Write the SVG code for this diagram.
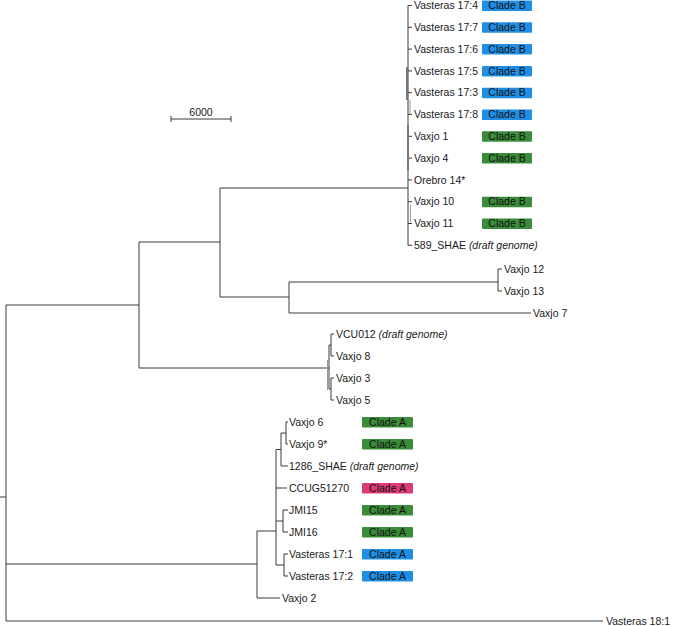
<svg xmlns="http://www.w3.org/2000/svg" width="675" height="626" viewBox="0 0 675 626">
<style>
.t{font-family:"Liberation Sans",Arial,sans-serif;font-size:10.5px;fill:#1a1a1a}
.i{font-style:italic}
.c{font-family:"Liberation Sans",Arial,sans-serif;font-size:10.5px;fill:#111;text-anchor:middle}
.br{fill:none;stroke:#3a3a3a;stroke-width:1}
.lg{fill:none;stroke:#9a9a9a;stroke-width:1}
.dg{fill:none;stroke:#777;stroke-width:2}
.bl{fill:#1f8fe6}
.gr{fill:#3b8c3a}
.pk{fill:#dd3a78}
</style>
<rect width="675" height="626" fill="#fff"/>
<g id="connectors">
<path class="br" d="M0 497H6M6 305V621M6 305H139M6 564H257M6 621H603"/>
<path class="br" d="M139 242V368M139 242H220M139 368H329M220 188V297M220 188H408M220 297H289"/>
<path class="br" d="M289 282V313M289 282H498M289 313H531M498 269V291M498 269H502M498 291H502"/>
<path class="br" d="M408 5.5V245.3M408 5.5H412M408 27.3H412M408 49.1H412M408 70.9H412M408 92.7H412M408 114.5H412M408 136.3H412M408 158.1H412M408 179.9H412M408 201.7H412M408 223.5H412M408 245.3H412"/>
<path class="dg" d="M407 67V100M408 125V170"/>
<path class="lg" d="M410 100V115M410.5 205V222"/>
<path class="br" d="M329 345V389M329 345H331M329 389H331M331 334V356M331 334H334M331 356H334M331 378V400M331 378H334M331 400H334"/>
<path class="lg" d="M327.5 360V390"/>
<path class="br" d="M257 531V598M257 531H276M257 598H280M276 449.5V565M276 449.5H281M276 488H287M276 521H283M276 565H284"/>
<path class="br" d="M281 433V466M281 433H286M281 466H288M286 422V444M286 422H288M286 444H288M283 510V532M283 510H288M283 532H288M284 554V576M284 554H288M284 576H288"/>
</g>
<g id="scale">
<path class="br" d="M171 119H231M171 116V122M231 116V122"/>
<text class="t" x="201" y="116" text-anchor="middle">6000</text>
</g>
<g id="v17-4"><text class="t" x="414" y="9.2">Vasteras 17:4</text><rect class="bl" x="482" y="0.5" width="50" height="10.5" rx="1"/><text class="c" x="507" y="9.2">Clade B</text></g>
<g id="v17-7"><text class="t" x="414" y="31">Vasteras 17:7</text><rect class="bl" x="482" y="22.3" width="50" height="10.5" rx="1"/><text class="c" x="507" y="31">Clade B</text></g>
<g id="v17-6"><text class="t" x="414" y="52.8">Vasteras 17:6</text><rect class="bl" x="482" y="44.1" width="50" height="10.5" rx="1"/><text class="c" x="507" y="52.8">Clade B</text></g>
<g id="v17-5"><text class="t" x="414" y="74.6">Vasteras 17:5</text><rect class="bl" x="482" y="65.9" width="50" height="10.5" rx="1"/><text class="c" x="507" y="74.6">Clade B</text></g>
<g id="v17-3"><text class="t" x="414" y="96.4">Vasteras 17:3</text><rect class="bl" x="482" y="87.7" width="50" height="10.5" rx="1"/><text class="c" x="507" y="96.4">Clade B</text></g>
<g id="v17-8"><text class="t" x="414" y="118.2">Vasteras 17:8</text><rect class="bl" x="482" y="109.5" width="50" height="10.5" rx="1"/><text class="c" x="507" y="118.2">Clade B</text></g>
<g id="vaxjo1"><text class="t" x="414" y="140">Vaxjo 1</text><rect class="gr" x="482" y="131.3" width="50" height="10.5" rx="1"/><text class="c" x="507" y="140">Clade B</text></g>
<g id="vaxjo4"><text class="t" x="414" y="161.8">Vaxjo 4</text><rect class="gr" x="482" y="153.1" width="50" height="10.5" rx="1"/><text class="c" x="507" y="161.8">Clade B</text></g>
<g id="orebro14"><text class="t" x="414" y="183.6">Orebro 14*</text></g>
<g id="vaxjo10"><text class="t" x="414" y="205.4">Vaxjo 10</text><rect class="gr" x="482" y="196.7" width="50" height="10.5" rx="1"/><text class="c" x="507" y="205.4">Clade B</text></g>
<g id="vaxjo11"><text class="t" x="414" y="227.2">Vaxjo 11</text><rect class="gr" x="482" y="218.5" width="50" height="10.5" rx="1"/><text class="c" x="507" y="227.2">Clade B</text></g>
<g id="shae589"><text class="t" x="414" y="249">589_SHAE <tspan class="i">(draft genome)</tspan></text></g>
<g id="vaxjo12"><text class="t" x="504" y="272.7">Vaxjo 12</text></g>
<g id="vaxjo13"><text class="t" x="504" y="294.7">Vaxjo 13</text></g>
<g id="vaxjo7"><text class="t" x="533" y="316.7">Vaxjo 7</text></g>
<g id="vcu012"><text class="t" x="336" y="337.7">VCU012 <tspan class="i">(draft genome)</tspan></text></g>
<g id="vaxjo8"><text class="t" x="336" y="359.7">Vaxjo 8</text></g>
<g id="vaxjo3"><text class="t" x="336" y="381.7">Vaxjo 3</text></g>
<g id="vaxjo5"><text class="t" x="336" y="403.7">Vaxjo 5</text></g>
<g id="vaxjo6"><text class="t" x="289" y="425.7">Vaxjo 6</text><rect class="gr" x="362" y="417" width="51" height="10.5" rx="1"/><text class="c" x="387.5" y="425.7">Clade A</text></g>
<g id="vaxjo9"><text class="t" x="289" y="447.7">Vaxjo 9*</text><rect class="gr" x="362" y="439" width="51" height="10.5" rx="1"/><text class="c" x="387.5" y="447.7">Clade A</text></g>
<g id="shae1286"><text class="t" x="289" y="469.7">1286_SHAE <tspan class="i">(draft genome)</tspan></text></g>
<g id="ccug51270"><text class="t" x="289" y="491.7">CCUG51270</text><rect class="pk" x="362" y="483" width="51" height="10.5" rx="1"/><text class="c" x="387.5" y="491.7">Clade A</text></g>
<g id="jmi15"><text class="t" x="289" y="513.7">JMI15</text><rect class="gr" x="362" y="505" width="51" height="10.5" rx="1"/><text class="c" x="387.5" y="513.7">Clade A</text></g>
<g id="jmi16"><text class="t" x="289" y="535.7">JMI16</text><rect class="gr" x="362" y="527" width="51" height="10.5" rx="1"/><text class="c" x="387.5" y="535.7">Clade A</text></g>
<g id="v17-1"><text class="t" x="289" y="557.7">Vasteras 17:1</text><rect class="bl" x="362" y="549" width="51" height="10.5" rx="1"/><text class="c" x="387.5" y="557.7">Clade A</text></g>
<g id="v17-2"><text class="t" x="289" y="579.7">Vasteras 17:2</text><rect class="bl" x="362" y="571" width="51" height="10.5" rx="1"/><text class="c" x="387.5" y="579.7">Clade A</text></g>
<g id="vaxjo2"><text class="t" x="282" y="601.7">Vaxjo 2</text></g>
<g id="v18-1"><text class="t" x="606" y="624.5">Vasteras 18:1</text></g>
</svg>
